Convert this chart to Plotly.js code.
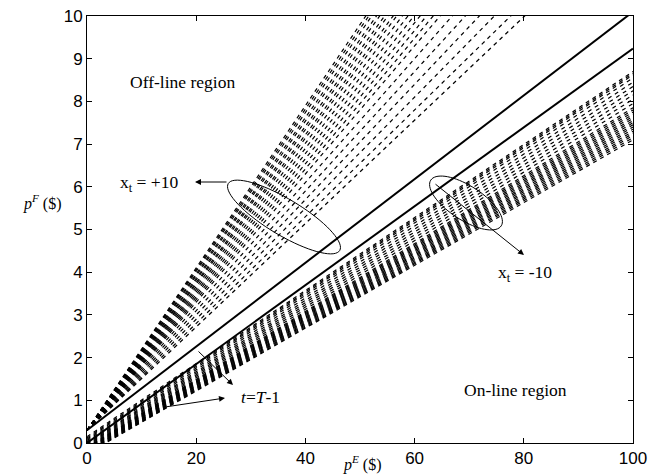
<!DOCTYPE html>
<html>
<head>
<meta charset="utf-8">
<script src="https://cdn.plot.ly/plotly-3.0.1.min.js"></script>
<style>html,body{margin:0;padding:0;background:#fff;}#chart{width:666px;height:476px;}</style>
</head>
<body>
<div id="chart"></div>
<script>
// x_t = +10 bundle (dashed): p^F at p^E = 0 and at p^E = 100
var upperStart = [0.30,0.30,0.30,0.30,0.30,0.30,0.30,0.30,0.30,0.30,0.30,0.30,0.30,0.30,0.30,0.30,0.30,0.30,0.30,0.30,0.30,0.30];
var upperEnd   = [19.3,19.1,18.9,18.6,18.4,18.1,17.9,17.6,17.4,17.1,16.8,16.5,16.2,15.9,15.6,15.3,14.8,14.3,13.8,13.3,12.8,12.4];
// x_t = -10 bundle (dashed)
var lowerStart = [-0.25,-0.24,-0.23,-0.22,-0.21,-0.20,-0.19,-0.18,-0.17,-0.16,-0.15,-0.14,-0.13,-0.12,-0.11,-0.10,-0.08,-0.06,-0.04,-0.02,0.00,0.03,0.06,0.09,0.12,0.15];
var lowerEnd   = [7.10,7.15,7.20,7.25,7.30,7.35,7.40,7.45,7.50,7.55,7.60,7.65,7.70,7.75,7.80,7.85,7.95,8.05,8.15,8.25,8.35,8.45,8.55,8.62,8.66,8.70];
// solid lines
var solidStart = [0.30, 0.00];
var solidEnd   = [10.1, 9.24];
var xEnds = [0, 100];

var xTicks = [0,20,40,60,80,100];
var yTicks = [0,1,2,3,4,5,6,7,8,9,10];

var M = {l:87, r:33, t:16, b:33};
var W = 666, H = 476;
var pw = W - M.l - M.r, ph = H - M.t - M.b;
function px2x(px){ return (px - M.l) / pw * 100; }
function py2y(py){ return (H - M.b - py) / ph * 10; }

var traces = [];
function addLine(y0, y1, dash, width){
  traces.push({x: xEnds, y: [y0, y1], mode: 'lines', type: 'scatter',
    line: {color: '#000', width: width, dash: dash}, hoverinfo: 'skip', showlegend: false});
}
for (var i = 0; i < upperEnd.length; i++) addLine(upperStart[i], upperEnd[i], '4px,4px', 1.2);
for (var j = 0; j < lowerEnd.length; j++) addLine(lowerStart[j], lowerEnd[j], '4px,4px', 1.2);
for (var k = 0; k < solidEnd.length; k++) addLine(solidStart[k], solidEnd[k], 'solid', 2);

function ellipsePath(cx, cy, a, b, angDeg){
  var th = angDeg * Math.PI / 180, s = '';
  for (var n = 0; n <= 72; n++){
    var t = n / 72 * 2 * Math.PI;
    var ex = a * Math.cos(t), ey = b * Math.sin(t);
    var X = cx + ex * Math.cos(th) - ey * Math.sin(th);
    var Y = cy + ex * Math.sin(th) + ey * Math.cos(th);
    s += (n === 0 ? 'M' : 'L') + px2x(X).toFixed(3) + ',' + py2y(Y).toFixed(3);
  }
  return s + 'Z';
}

var serif = 'Liberation Serif, Times New Roman, serif';
function txt(px, py, s, size){
  return {xref: 'x', yref: 'y', x: px2x(px), y: py2y(py), text: s, showarrow: false,
    xanchor: 'center', yanchor: 'middle', font: {family: serif, size: size, color: '#000'}};
}
function arrow(hx, hy, ax, ay){
  return {xref: 'x', yref: 'y', x: px2x(hx), y: py2y(hy), ax: ax, ay: ay, text: '', showarrow: true,
    arrowhead: 2, arrowsize: 1.2, arrowwidth: 1, arrowcolor: '#000'};
}
var layout = {
  width: W, height: H,
  margin: M,
  paper_bgcolor: '#fff', plot_bgcolor: '#fff',
  showlegend: false,
  xaxis: {range: [0, 100], tickvals: xTicks, ticks: 'inside', ticklen: 5, tickcolor: '#000',
    showline: true, linecolor: '#000', linewidth: 1, mirror: 'ticks', showgrid: false, zeroline: false,
    tickfont: {family: 'Liberation Sans, Arial, sans-serif', size: 17, color: '#000'}},
  yaxis: {range: [0, 10], tickvals: yTicks, ticks: 'inside', ticklen: 5, tickcolor: '#000',
    showline: true, linecolor: '#000', linewidth: 1, mirror: 'ticks', showgrid: false, zeroline: false,
    tickfont: {family: 'Liberation Sans, Arial, sans-serif', size: 17, color: '#000'}},
  shapes: [
    {type: 'path', xref: 'x', yref: 'y', path: ellipsePath(284, 217, 65, 18, 31), line: {color: '#000', width: 1}},
    {type: 'path', xref: 'x', yref: 'y', path: ellipsePath(466, 203, 42, 17, 33), line: {color: '#000', width: 1}}
  ],
  annotations: [
    txt(182, 82, 'Off-line region', 17.5),
    txt(515, 390, 'On-line region', 17.5),
    txt(149, 183, 'x<sub>t</sub> = +10', 17.5),
    txt(525, 273, 'x<sub>t</sub> = -10', 17.5),
    txt(260, 397, '<i>t</i>=<i>T</i>-1', 17.5),
    {xref: 'paper', yref: 'paper', x: (42 - M.l) / pw, y: (H - M.b - 202) / ph, xanchor: 'center', yanchor: 'middle',
      text: '<i>p</i><sup><i>F</i></sup> ($)', showarrow: false, font: {family: serif, size: 16, color: '#000'}},
    {xref: 'paper', yref: 'paper', x: (362 - M.l) / pw, y: (H - M.b - 463) / ph, xanchor: 'center', yanchor: 'middle',
      text: '<i>p</i><sup><i>E</i></sup> ($)', showarrow: false, font: {family: serif, size: 16, color: '#000'}},
    arrow(195, 182, 33, 0),
    arrow(524, 255, -90, -72),
    arrow(233, 385, -36, -35),
    arrow(225, 398, -60, 9)
  ]
};
Plotly.newPlot('chart', traces, layout, {staticPlot: true, displayModeBar: false});
</script>
</body>
</html>
